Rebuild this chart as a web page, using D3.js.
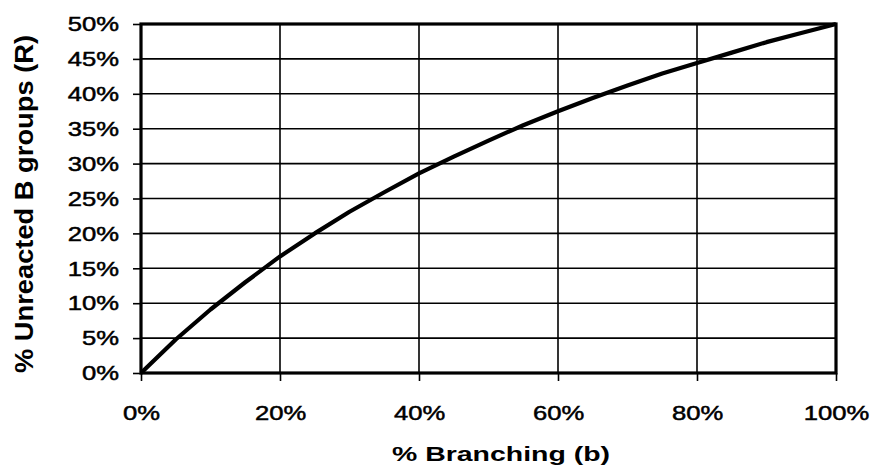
<!DOCTYPE html>
<html>
<head>
<meta charset="utf-8">
<script src="https://cdn.jsdelivr.net/npm/d3@7"></script>
<style>
  html, body { margin: 0; padding: 0; background: #fff; }
  svg { display: block; }
  text { font-family: "Liberation Sans", Arial, Helvetica, sans-serif; fill: #000; }
</style>
</head>
<body>
<svg id="chart" width="873" height="470"></svg>
<script>
// Data
const branching = [0, 0.05, 0.10, 0.15, 0.20, 0.25, 0.30, 0.35, 0.40, 0.45, 0.50,
                   0.55, 0.60, 0.65, 0.70, 0.75, 0.80, 0.85, 0.90, 0.95, 1.00];
const unreacted = [0, 0.048, 0.091, 0.130, 0.167, 0.200, 0.231, 0.259, 0.286, 0.310, 0.333,
                   0.355, 0.375, 0.394, 0.412, 0.429, 0.444, 0.459, 0.474, 0.487, 0.500];
const xTicks = [0, 0.2, 0.4, 0.6, 0.8, 1.0];
const yTicks = [0, 0.05, 0.10, 0.15, 0.20, 0.25, 0.30, 0.35, 0.40, 0.45, 0.50];
const xTitle = "% Branching (b)";
const yTitle = "% Unreacted B groups (R)";

const svg = d3.select("#chart");
const L = 141, R = 836, T = 24, B = 373;
const STRETCH = 1.22;

const x = d3.scaleLinear().domain([0, 1]).range([L, R]);
const y = d3.scaleLinear().domain([0, 0.5]).range([B, T]);
const fmt = d => Math.round(d * 100) + "%";

// gridlines
svg.append("g").selectAll("line").data(yTicks).join("line")
  .attr("x1", L).attr("x2", R)
  .attr("y1", d => y(d)).attr("y2", d => y(d))
  .attr("stroke", "#000").attr("stroke-width", 1.6);
svg.append("g").selectAll("line").data(xTicks).join("line")
  .attr("y1", T).attr("y2", B)
  .attr("x1", d => x(d)).attr("x2", d => x(d))
  .attr("stroke", "#000").attr("stroke-width", 1.6);

// axes
const yAxis = svg.append("g").attr("transform", `translate(${L},0)`)
  .call(d3.axisLeft(y).tickValues(yTicks).tickFormat(fmt).tickSize(8).tickPadding(14));
const xAxis = svg.append("g").attr("transform", `translate(0,${B})`)
  .call(d3.axisBottom(x).tickValues(xTicks).tickFormat(fmt).tickSize(8).tickPadding(24));
[yAxis, xAxis].forEach(a => {
  a.select(".domain").remove();
  a.selectAll(".tick line").attr("stroke", "#000").attr("stroke-width", 1.6);
  a.selectAll(".tick text").attr("font-size", 21).attr("font-family", "Liberation Sans, Arial, sans-serif")
    .attr("fill", "#000").attr("stroke", "#000").attr("stroke-width", 0.5)
    .each(function() {
      const w = this.getComputedTextLength();
      d3.select(this).attr("textLength", w * STRETCH).attr("lengthAdjust", "spacingAndGlyphs");
    });
});

// plot border
svg.append("rect").attr("x", L).attr("y", T).attr("width", R - L).attr("height", B - T)
  .attr("fill", "none").attr("stroke", "#000").attr("stroke-width", 3.2);

// curve
const pts = branching.map((b, i) => [b, unreacted[i]]);
svg.append("path").datum(pts)
  .attr("d", d3.line().x(d => x(d[0])).y(d => y(d[1])))
  .attr("fill", "none").attr("stroke", "#000").attr("stroke-width", 4.2)
  .attr("stroke-linejoin", "round");

// titles
svg.append("text").attr("x", 501).attr("y", 461).attr("text-anchor", "middle")
  .attr("font-size", 20).attr("font-weight", "bold")
  .attr("textLength", 218).attr("lengthAdjust", "spacingAndGlyphs")
  .text(xTitle);
svg.append("text").attr("transform", "translate(33,204) scale(1.27,1) rotate(-90)")
  .attr("text-anchor", "middle")
  .attr("font-size", 21).attr("font-weight", "bold")
  .attr("textLength", 338).attr("lengthAdjust", "spacingAndGlyphs")
  .text(yTitle);
</script>
</body>
</html>
